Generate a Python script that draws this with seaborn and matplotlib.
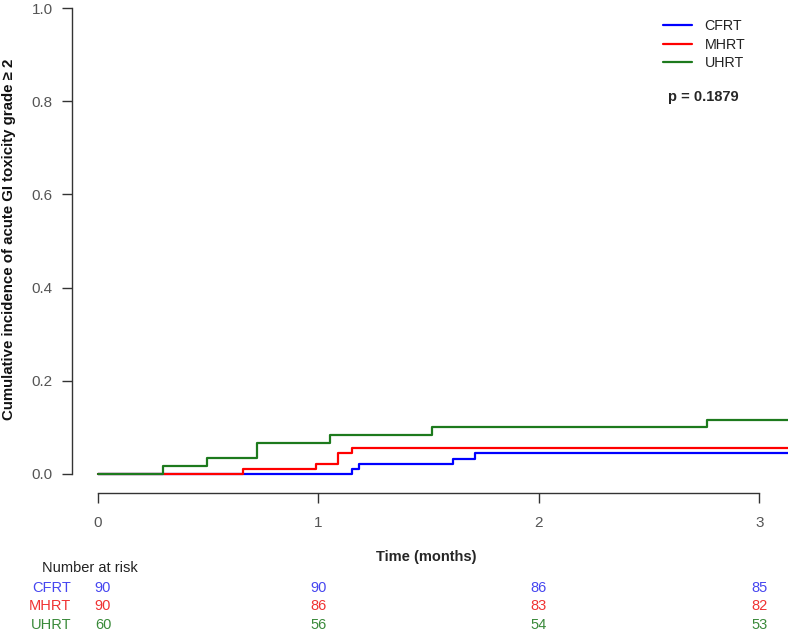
import matplotlib
matplotlib.use("Agg")
import matplotlib.pyplot as plt
import matplotlib.transforms as mtransforms
import seaborn as sns
import pandas as pd
from matplotlib.lines import Line2D

groups = ["CFRT", "MHRT", "UHRT"]
line_colors = ["#0000ff", "#ff0000", "#1d7a1d"]
risk_colors = ["#4646f0", "#f03232", "#3a8a3a"]

cfrt_t = [0, 1.15, 1.185, 1.61, 1.708, 3.13]
cfrt_v = [0, 0.011, 0.022, 0.033, 0.0457, 0.0457]
mhrt_t = [0, 0.659, 0.987, 1.087, 1.153, 3.13]
mhrt_v = [0, 0.011, 0.022, 0.044, 0.0567, 0.0567]
uhrt_t = [0, 0.293, 0.494, 0.721, 1.052, 1.516, 2.763, 3.13]
uhrt_v = [0, 0.0167, 0.0333, 0.0667, 0.0833, 0.100, 0.1167, 0.1167]

risk_times = [0, 1, 2, 3]
risk_cfrt = [90, 90, 86, 85]
risk_mhrt = [90, 86, 83, 82]
risk_uhrt = [60, 56, 54, 53]

x_ticks = [0, 1, 2, 3]
y_ticks = [0.0, 0.2, 0.4, 0.6, 0.8, 1.0]

frames = []
for g, t, v in zip(groups, [cfrt_t, mhrt_t, uhrt_t], [cfrt_v, mhrt_v, uhrt_v]):
    frames.append(pd.DataFrame({"time": t, "value": v, "group": g}))
df = pd.concat(frames, ignore_index=True)

sns.set_style("white")
plt.rcParams["font.family"] = ["Liberation Sans", "DejaVu Sans"]

W, H = 789, 635
fig = plt.figure(figsize=(W / 100, H / 100), dpi=100)
ax = fig.add_axes([72 / W, 1 - 492.6 / H, 716 / W, (492.6 - 8) / H])

sns.lineplot(data=df, x="time", y="value", hue="group", hue_order=groups,
             palette=dict(zip(groups, line_colors)), estimator=None,
             drawstyle="steps-post", linewidth=1.6, legend=False, ax=ax)

ax.set_xlim(-0.118, 3.13)
ax.set_ylim(-0.04, 1.0)
ax.set_xticks(x_ticks)
ax.set_xticklabels([str(x) for x in x_ticks])
ax.set_yticks(y_ticks)
ax.set_yticklabels([f"{y:.1f}" for y in y_ticks])
for s in ["top", "right"]:
    ax.spines[s].set_visible(False)
ax.spines["left"].set_bounds(0, 1)
ax.spines["bottom"].set_bounds(0, 3)
for s in ["left", "bottom"]:
    ax.spines[s].set_color("#333333")
    ax.spines[s].set_linewidth(1.0)
ax.tick_params(axis="both", direction="out", length=7.2, width=1.0,
               color="#333333", labelcolor="#555555", labelsize=11,
               left=True, bottom=True)
ax.tick_params(axis="y", pad=6.5)
ax.tick_params(axis="x", pad=10)
ax.set_xlabel("")
ax.set_ylabel("")

fig.text(9 / W, 1 - 239 / H,
         "Cumulative incidence of acute GI toxicity grade \u2265 2",
         fontsize=10.8, fontweight="bold", rotation=90, ha="center", va="center",
         color="#111111")

handles = [Line2D([], [], color=c, lw=1.6) for c in line_colors]
ax.legend(handles, groups, loc="upper left",
          bbox_to_anchor=(663 / W, 1 - 19.5 / H), bbox_transform=fig.transFigure,
          frameon=False, fontsize=10.3, handlelength=2.0, handletextpad=0.9,
          labelspacing=0.3, borderpad=0, borderaxespad=0, labelcolor="#222222")

fig.text(668 / W, 1 - 97 / H, "p = 0.1879", fontsize=10.5,
         fontweight="bold", va="center", ha="left")

fig.text(426 / W, 1 - 557 / H, "Time (months)", fontsize=10.5,
         fontweight="bold", ha="center", va="center")
fig.text(42 / W, 1 - 568 / H, "Number at risk", fontsize=10.5,
         ha="left", va="center", color="#222222")

row_y = [588, 606.5, 625]
for g, c, vals, yy in zip(groups, risk_colors, [risk_cfrt, risk_mhrt, risk_uhrt], row_y):
    fig.text(71 / W, 1 - yy / H, g, fontsize=10.5, color=c, ha="right", va="center")
    for i, (t, n) in enumerate(zip(risk_times, vals)):
        trans = mtransforms.blended_transform_factory(ax.transData, fig.transFigure)
        if i == 0:
            trans = trans + mtransforms.ScaledTranslation(5 / 100, 0, fig.dpi_scale_trans)
        fig.text(t, 1 - yy / H, str(n), fontsize=10.5, color=c, ha="center",
                 va="center", transform=trans)

fig.savefig("out.png", dpi=100, facecolor="white")
